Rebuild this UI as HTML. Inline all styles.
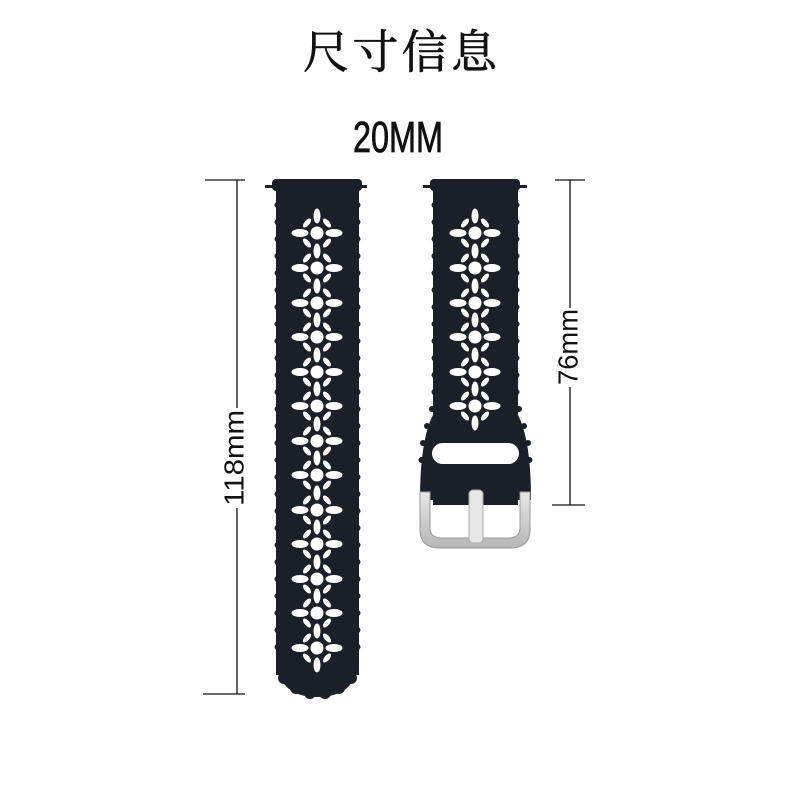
<!DOCTYPE html>
<html><head><meta charset="utf-8"><style>html,body{margin:0;padding:0;background:#fff}svg{display:block}</style></head>
<body>
<svg width="800" height="800" viewBox="0 0 800 800" xmlns="http://www.w3.org/2000/svg">
<defs>
<g id="fl" fill="#fff">
<circle cx="0" cy="0" r="6.5"/>
<ellipse cx="-17" cy="0" rx="8.5" ry="4"/>
<ellipse cx="17" cy="0" rx="8.5" ry="4"/>
<ellipse cx="0" cy="-17" rx="3.5" ry="7.5"/>
<ellipse cx="-10" cy="-10" rx="5.5" ry="2.6" transform="rotate(-50 -10 -10)"/>
<ellipse cx="10" cy="-10" rx="5.5" ry="2.6" transform="rotate(50 10 -10)"/>
<ellipse cx="-10" cy="10" rx="5.5" ry="2.6" transform="rotate(50 -10 10)"/>
<ellipse cx="10" cy="10" rx="5.5" ry="2.6" transform="rotate(-50 10 10)"/>
</g>
<g id="fl2"><use href="#fl"/><ellipse cx="0" cy="17" rx="3.5" ry="7.5" fill="#fff"/></g>
<linearGradient id="sil" x1="0" y1="0" x2="0" y2="1"><stop offset="0" stop-color="#e8e8e8"/><stop offset="1" stop-color="#b5b5b5"/></linearGradient>
</defs>
<rect width="800" height="800" fill="#fff"/>
<text x="400" y="68" text-anchor="middle" font-family="Noto Serif CJK SC, serif" font-size="46" textLength="194" fill="#111" stroke="#111" stroke-width="0.7">尺寸信息</text>
<text x="398" y="152" text-anchor="middle" font-family="Liberation Sans, sans-serif" font-size="44" textLength="90" lengthAdjust="spacingAndGlyphs" fill="#111" stroke="#111" stroke-width="0.8">20MM</text>

<!-- left strap -->
<g fill="#1b1f27">
<rect x="265" y="185" width="102" height="3"/>
<rect x="272" y="179" width="90" height="12" rx="4"/>
<rect x="276" y="185" width="83" height="490"/>
<path d="M276 655 Q276 697 317 697 Q359 697 359 655 Z"/>
</g>
<g fill="#1b1f27">
<circle cx="277.5" cy="205" r="3"/><circle cx="277.5" cy="222" r="3"/><circle cx="277.5" cy="239" r="3"/><circle cx="277.5" cy="256" r="3"/><circle cx="277.5" cy="273" r="3"/><circle cx="277.5" cy="290" r="3"/><circle cx="277.5" cy="307" r="3"/><circle cx="277.5" cy="324" r="3"/><circle cx="277.5" cy="341" r="3"/><circle cx="277.5" cy="358" r="3"/><circle cx="277.5" cy="375" r="3"/><circle cx="277.5" cy="392" r="3"/><circle cx="277.5" cy="409" r="3"/><circle cx="277.5" cy="426" r="3"/><circle cx="277.5" cy="443" r="3"/><circle cx="277.5" cy="460" r="3"/><circle cx="277.5" cy="477" r="3"/><circle cx="277.5" cy="494" r="3"/><circle cx="277.5" cy="511" r="3"/><circle cx="277.5" cy="528" r="3"/><circle cx="277.5" cy="545" r="3"/><circle cx="277.5" cy="562" r="3"/><circle cx="277.5" cy="579" r="3"/><circle cx="277.5" cy="596" r="3"/><circle cx="277.5" cy="613" r="3"/><circle cx="277.5" cy="630" r="3"/><circle cx="277.5" cy="647" r="3"/>
<circle cx="357.5" cy="205" r="3"/><circle cx="357.5" cy="222" r="3"/><circle cx="357.5" cy="239" r="3"/><circle cx="357.5" cy="256" r="3"/><circle cx="357.5" cy="273" r="3"/><circle cx="357.5" cy="290" r="3"/><circle cx="357.5" cy="307" r="3"/><circle cx="357.5" cy="324" r="3"/><circle cx="357.5" cy="341" r="3"/><circle cx="357.5" cy="358" r="3"/><circle cx="357.5" cy="375" r="3"/><circle cx="357.5" cy="392" r="3"/><circle cx="357.5" cy="409" r="3"/><circle cx="357.5" cy="426" r="3"/><circle cx="357.5" cy="443" r="3"/><circle cx="357.5" cy="460" r="3"/><circle cx="357.5" cy="477" r="3"/><circle cx="357.5" cy="494" r="3"/><circle cx="357.5" cy="511" r="3"/><circle cx="357.5" cy="528" r="3"/><circle cx="357.5" cy="545" r="3"/><circle cx="357.5" cy="562" r="3"/><circle cx="357.5" cy="579" r="3"/><circle cx="357.5" cy="596" r="3"/><circle cx="357.5" cy="613" r="3"/><circle cx="357.5" cy="630" r="3"/><circle cx="357.5" cy="647" r="3"/>
<circle cx="284" cy="678" r="6"/><circle cx="296" cy="688" r="6"/><circle cx="310" cy="693" r="6"/><circle cx="325" cy="693" r="6"/><circle cx="339" cy="688" r="6"/><circle cx="351" cy="678" r="6"/>
</g>
<g transform="translate(317,0)">
<use href="#fl" y="233"/><use href="#fl" y="268"/><use href="#fl" y="303"/><use href="#fl" y="337"/><use href="#fl" y="372"/><use href="#fl" y="406"/><use href="#fl" y="441"/><use href="#fl" y="475"/><use href="#fl" y="510"/><use href="#fl" y="544"/><use href="#fl" y="579"/><use href="#fl" y="613"/><use href="#fl2" y="648"/>
</g>

<!-- right strap -->
<g fill="#1b1f27">
<rect x="423" y="185" width="104" height="3"/>
<rect x="430" y="179" width="90" height="12" rx="4"/>
<rect x="433" y="185" width="85" height="320"/>
<path d="M433 415 Q420 440 420 500 L531 500 Q531 440 518 415 Z"/>
</g>
<g fill="#1b1f27">
<circle cx="434.5" cy="205" r="3"/><circle cx="434.5" cy="222" r="3"/><circle cx="434.5" cy="239" r="3"/><circle cx="434.5" cy="256" r="3"/><circle cx="434.5" cy="273" r="3"/><circle cx="434.5" cy="290" r="3"/><circle cx="434.5" cy="307" r="3"/><circle cx="434.5" cy="324" r="3"/><circle cx="434.5" cy="341" r="3"/><circle cx="434.5" cy="358" r="3"/><circle cx="434.5" cy="375" r="3"/><circle cx="434.5" cy="392" r="3"/><circle cx="432" cy="409" r="3"/><circle cx="427" cy="426" r="3"/><circle cx="423" cy="443" r="3"/><circle cx="421.5" cy="460" r="3"/>
<circle cx="516.5" cy="205" r="3"/><circle cx="516.5" cy="222" r="3"/><circle cx="516.5" cy="239" r="3"/><circle cx="516.5" cy="256" r="3"/><circle cx="516.5" cy="273" r="3"/><circle cx="516.5" cy="290" r="3"/><circle cx="516.5" cy="307" r="3"/><circle cx="516.5" cy="324" r="3"/><circle cx="516.5" cy="341" r="3"/><circle cx="516.5" cy="358" r="3"/><circle cx="516.5" cy="375" r="3"/><circle cx="516.5" cy="392" r="3"/><circle cx="519" cy="409" r="3"/><circle cx="524" cy="426" r="3"/><circle cx="528" cy="443" r="3"/><circle cx="529.5" cy="460" r="3"/>
</g>
<g transform="translate(475,0)">
<use href="#fl" y="233"/><use href="#fl" y="268"/><use href="#fl" y="303"/><use href="#fl" y="337"/><use href="#fl" y="372"/><use href="#fl2" y="406"/>
</g>
<rect x="432" y="443" width="87" height="21" rx="10.5" fill="#fff"/>
<!-- buckle -->
<path d="M420 492 L420 530 Q420 548 440 548 L510 548 Q530 548 530 530 L530 492 L520 492 L520 528 Q520 538 508 538 L442 538 Q430 538 430 528 L430 492 Z" fill="url(#sil)" stroke="#999" stroke-width="1"/>
<rect x="469" y="490" width="14" height="53" rx="4" fill="#e6e6e6" stroke="#aaa" stroke-width="1"/>

<!-- dimension lines -->
<g stroke="#111" stroke-width="1.3">
<line x1="237" y1="180" x2="237" y2="408"/><line x1="237" y1="508" x2="237" y2="694"/>
<line x1="205" y1="180" x2="245" y2="180"/><line x1="203" y1="694" x2="245" y2="694"/>
<line x1="570" y1="180" x2="570" y2="308"/><line x1="570" y1="387" x2="570" y2="505"/>
<line x1="555" y1="180" x2="585" y2="180"/><line x1="552" y1="505" x2="585" y2="505"/>
</g>
<text transform="translate(236,458) rotate(-90)" x="0" y="0" dominant-baseline="middle" text-anchor="middle" font-family="Liberation Sans, sans-serif" font-size="28" textLength="96" lengthAdjust="spacingAndGlyphs" fill="#111">118mm</text>
<text transform="translate(570,347) rotate(-90)" x="0" y="0" dominant-baseline="middle" text-anchor="middle" font-family="Liberation Sans, sans-serif" font-size="28" textLength="76" lengthAdjust="spacingAndGlyphs" fill="#111">76mm</text>
</svg>
</body></html>
